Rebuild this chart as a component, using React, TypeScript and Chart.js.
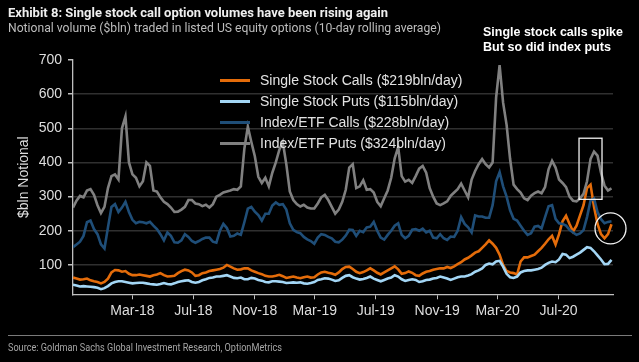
import React, { useEffect, useLayoutEffect, useRef } from "react";
import { Chart, registerables } from "chart.js";

Chart.register(...registerables);

// ---------- data ----------
const startDate = "2017-11-02"; // first weekly observation
const stepDays = 7;

const seriesNames = [
  "Single Stock Calls ($219bln/day)",
  "Single Stock Puts ($115bln/day)",
  "Index/ETF Calls ($228bln/day)",
  "Index/ETF Puts ($324bln/day)",
];

const singleStockCalls = [
  63, 60, 57, 58, 60, 55, 52, 50, 46, 50, 60, 78, 85, 84, 80, 82, 74, 70, 70, 72, 70, 68, 66, 70, 72, 76, 70, 66, 67, 68, 76, 82, 86, 84, 78,
  68, 70, 76, 78, 82, 84, 86, 88, 92, 100, 95, 90, 86, 87, 90, 90, 84, 80, 76, 73, 68, 66, 66, 68, 71, 67, 62, 64, 66, 63, 61, 64, 66, 63, 64,
  72, 78, 80, 77, 75, 71, 78, 88, 94, 95, 88, 80, 76, 79, 84, 90, 84, 77, 72, 78, 84, 90, 96, 87, 74, 76, 81, 77, 70, 68, 75, 80, 82, 86, 88,
  90, 90, 94, 91, 96, 102, 108, 116, 121, 128, 136, 140, 150, 160, 172, 162, 150, 130, 100, 82, 78, 76, 72, 110, 122,
  122, 126, 130, 140, 150, 162, 175, 185, 160, 190, 228, 244, 220, 198, 215, 245, 275, 325, 335, 270, 220, 190, 178, 190, 219,
];

const singleStockPuts = [
  42, 40, 37, 38, 37, 36, 35, 33, 29, 32, 38, 46, 50, 52, 52, 50, 48, 46, 47, 48, 48, 46, 44, 43, 42, 44, 47, 44, 43, 46, 50, 52, 54, 55, 50,
  48, 50, 55, 58, 62, 63, 66, 66, 68, 70, 66, 62, 61, 63, 58, 58, 62, 60, 56, 54, 50, 49, 52, 52, 51, 50, 47, 48, 49, 48, 49, 46, 45, 47, 50,
  56, 58, 61, 60, 57, 53, 55, 62, 68, 70, 64, 60, 57, 59, 62, 66, 60, 56, 52, 56, 60, 63, 70, 66, 58, 53, 56, 58, 56, 50, 52, 56, 57, 60, 62,
  66, 63, 60, 56, 60, 64, 66, 66, 69, 73, 80, 84, 90, 100, 104, 102, 110, 112, 95, 74, 64, 62, 66, 78, 82,
  84, 84, 86, 88, 92, 100, 106, 110, 108, 116, 132, 130, 120, 124, 130, 136, 144, 152, 150, 140, 128, 116, 102, 103, 115,
];

const indexEtfCalls = [
  152, 160, 168, 185, 225, 230, 205, 190, 160, 148, 210, 270, 278, 255, 268, 285, 255, 232, 222, 226, 225, 222, 226, 215, 205, 190, 172, 195, 185, 166, 165, 172, 190, 182, 170,
  165, 170, 176, 180, 180, 168, 165, 200, 220, 208, 183, 185, 192, 188, 225, 265, 270, 256, 246, 230, 250, 250, 274, 283, 276, 278, 262, 222, 203, 196, 193, 182, 175, 170, 162,
  180, 190, 188, 182, 178, 168, 166, 174, 186, 203, 202, 185, 200, 196, 210, 212, 226, 200, 180, 174, 188, 200, 215, 222, 188, 178, 185, 203, 205, 200, 206, 195, 200, 180, 178,
  190, 178, 173, 183, 182, 200, 240, 220, 210, 195, 245, 242, 242, 238, 238, 275, 345, 372, 330, 300, 260, 235, 230, 215, 200,
  188, 193, 212, 214, 207, 240, 272, 275, 235, 222, 220, 215, 203, 195, 188, 192, 202, 240, 288, 295, 255, 234, 222, 226, 228,
];

const indexEtfPuts = [
  268, 288, 302, 298, 318, 322, 305, 275, 252, 270, 325, 360, 365, 350, 500, 535, 400, 365, 355, 330, 345, 400, 390, 318, 315, 298, 285, 278, 268, 255, 256, 262, 270, 290, 290,
  280, 278, 272, 276, 268, 278, 300, 305, 312, 315, 318, 322, 320, 330, 440, 505, 460, 418, 358, 340, 355, 330, 370, 400, 437, 460, 395, 315, 290, 278, 271, 276, 268, 265, 265,
  280, 298, 305, 290, 270, 250, 262, 285, 320, 385, 395, 325, 330, 348, 320, 322, 312, 285, 272, 295, 318, 355, 412, 445, 360, 344, 349, 340, 360, 382, 390, 370, 325, 300, 280,
  275, 280, 286, 302, 312, 322, 338, 318, 298, 350, 375, 395, 410, 395, 385, 400, 590, 685, 575, 510, 410, 335, 322, 312, 295,
  290, 303, 310, 315, 310, 328, 380, 405, 385, 350, 340, 328, 300, 288, 286, 295, 308, 345, 410, 432, 420, 370, 332, 318, 324,
];

const seriesColors = ["#E46C0A", "#A3D6F5", "#1F4E78", "#808080"];

const tickDates = [
  "2018-03-01", "2018-07-01", "2018-11-01", "2019-03-01",
  "2019-07-01", "2019-11-01", "2020-03-01", "2020-07-01",
];
const tickLabels = ["Mar-18", "Jul-18", "Nov-18", "Mar-19", "Jul-19", "Nov-19", "Mar-20", "Jul-20"];
const yTicks = [100, 200, 300, 400, 500, 600, 700];
const axisEndDate = "2020-10-18";

const highlightBox = { from: "2020-08-11", to: "2020-09-26", low: 292, high: 471 };
const highlightCircle = { date: "2020-10-13", value: 207 };

// ---------- helpers ----------
const FONT = "'Liberation Sans', Arial, sans-serif";

function FitText(props: { text: string; left: number; top: number; width: number; style: React.CSSProperties }) {
  const ref = useRef<HTMLSpanElement>(null);
  useLayoutEffect(() => {
    const el = ref.current;
    if (!el) return;
    el.style.transform = "none";
    const w = el.getBoundingClientRect().width;
    if (w > 0) el.style.transform = `scaleX(${props.width / w})`;
  }, [props.text, props.width]);
  return (
    <span
      ref={ref}
      style={{
        position: "absolute",
        left: props.left,
        top: props.top,
        whiteSpace: "nowrap",
        transformOrigin: "0 0",
        lineHeight: 1,
        ...props.style,
      }}
    >
      {props.text}
    </span>
  );
}

export default function App() {
  const canvasRef = useRef<HTMLCanvasElement>(null);

  useEffect(() => {
    const start = Date.parse(startDate + "T00:00:00Z");
    const dayOf = (d: string) => (Date.parse(d + "T00:00:00Z") - start) / 86400000;
    const toPoints = (vals: number[]) => vals.map((v, i) => ({ x: i * stepDays, y: v }));
    const tickValues = tickDates.map(dayOf);
    const allSeries = [singleStockCalls, singleStockPuts, indexEtfCalls, indexEtfPuts];

    const annotationPlugin = {
      id: "highlights",
      afterDatasetsDraw(chart: any) {
        const { ctx, scales } = chart;
        const xs = scales.x;
        const ys = scales.y;
        ctx.save();
        ctx.strokeStyle = "#f2f2f2";
        ctx.lineWidth = 1.3;
        const x0 = xs.getPixelForValue(dayOf(highlightBox.from));
        const x1 = xs.getPixelForValue(dayOf(highlightBox.to));
        const y0 = ys.getPixelForValue(highlightBox.high);
        const y1 = ys.getPixelForValue(highlightBox.low);
        ctx.strokeRect(x0, y0, x1 - x0, y1 - y0);
        const cx = xs.getPixelForValue(dayOf(highlightCircle.date));
        const cy = ys.getPixelForValue(highlightCircle.value);
        ctx.beginPath();
        ctx.arc(cx, cy, 15.5, 0, Math.PI * 2);
        ctx.stroke();
        ctx.restore();
      },
    };

    // draw order: Index/ETF Puts on top (last series in legend drawn last)
    const datasets = [3, 2, 1, 0].map((k) => ({
      label: seriesNames[k],
      data: toPoints(allSeries[k]),
      borderColor: seriesColors[k],
      backgroundColor: seriesColors[k],
      borderWidth: 2.6,
      pointRadius: 0,
      tension: 0,
      fill: false,
    }));

    const chart = new Chart(canvasRef.current as HTMLCanvasElement, {
      type: "line",
      data: { datasets },
      options: {
        animation: false,
        responsive: false,
        maintainAspectRatio: false,
        layout: { padding: { left: 0, right: 26, top: 60, bottom: 37.7 } },
        plugins: { legend: { display: false }, tooltip: { enabled: false } },
        scales: {
          x: {
            type: "linear",
            min: 0,
            max: dayOf(axisEndDate),
            afterBuildTicks: (s: any) => {
              s.ticks = tickValues.map((v) => ({ value: v }));
            },
            afterFit: (s: any) => {
              s.height = 30;
            },
            ticks: {
              autoSkip: false,
              maxRotation: 0,
              padding: 3,
              color: "#dedede",
              font: { family: FONT, size: 14 },
              callback: (_v: any, i: number) => tickLabels[i] ?? "",
            },
            grid: { drawOnChartArea: false, tickLength: 5, tickColor: "#bfbfbf", tickWidth: 1 },
            border: { color: "#bfbfbf", width: 1.3 },
          },
          y: {
            min: 14,
            max: 700,
            afterBuildTicks: (s: any) => {
              s.ticks = yTicks.map((v) => ({ value: v }));
            },
            afterFit: (s: any) => {
              s.width = 73;
            },
            ticks: {
              padding: 6,
              color: "#dedede",
              font: { family: FONT, size: 14 },
            },
            grid: {
              color: (c: any) => (c.tick && c.tick.value === 700 ? "rgba(0,0,0,0)" : "#303030"),
              lineWidth: 1.5,
              tickLength: 5,
              tickColor: "#bfbfbf",
            },
            border: { color: "#bfbfbf", width: 1.3 },
            title: {
              display: true,
              text: "$bln Notional",
              color: "#dedede",
              font: { family: FONT, size: 14 },
              padding: { top: 15.6, bottom: 0 },
            },
          },
        },
      },
      plugins: [annotationPlugin],
    } as any);

    return () => chart.destroy();
  }, []);

  const legendRows = [80, 101, 122, 143];

  return (
    <div
      style={{
        position: "fixed",
        left: 0,
        top: 0,
        width: 639,
        height: 362,
        background: "#000",
        overflow: "hidden",
      }}
    >
      <canvas
        ref={canvasRef}
        width={639}
        height={362}
        style={{ position: "absolute", left: 0, top: 0, width: 639, height: 362 }}
      />
      <FitText
        text="Exhibit 8: Single stock call option volumes have been rising again"
        left={8}
        top={6}
        width={380}
        style={{ fontFamily: "Roboto, " + FONT, fontWeight: 700, fontSize: 13, color: "#efefef" }}
      />
      <FitText
        text="Notional volume ($bln) traded in listed US equity options (10-day rolling average)"
        left={8}
        top={22}
        width={433}
        style={{ fontFamily: "Roboto, " + FONT, fontWeight: 400, fontSize: 12, color: "#bdbdbd" }}
      />
      <FitText
        text="Single stock calls spike"
        left={483}
        top={25}
        width={140}
        style={{ fontFamily: FONT, fontWeight: 700, fontSize: 13, color: "#ffffff" }}
      />
      <FitText
        text="But so did index puts"
        left={483}
        top={39.7}
        width={128}
        style={{ fontFamily: FONT, fontWeight: 700, fontSize: 13, color: "#ffffff" }}
      />
      {seriesNames.map((name, k) => (
        <React.Fragment key={name}>
          <div
            style={{
              position: "absolute",
              left: 220,
              top: legendRows[k] - 1.5,
              width: 30,
              height: 3,
              background: seriesColors[k],
            }}
          />
          <span
            style={{
              position: "absolute",
              left: 260,
              top: legendRows[k] - 8,
              lineHeight: "16px",
              fontFamily: FONT,
              fontSize: 14,
              color: "#e3e3e3",
              whiteSpace: "nowrap",
            }}
          >
            {name}
          </span>
        </React.Fragment>
      ))}
      <div style={{ position: "absolute", left: 8, top: 335, width: 624, height: 1, background: "#7a7a7a" }} />
      <FitText
        text="Source: Goldman Sachs Global Investment Research, OptionMetrics"
        left={8}
        top={342.5}
        width={274}
        style={{ fontFamily: "Roboto, " + FONT, fontSize: 10, color: "#a6a6a6" }}
      />
    </div>
  );
}
